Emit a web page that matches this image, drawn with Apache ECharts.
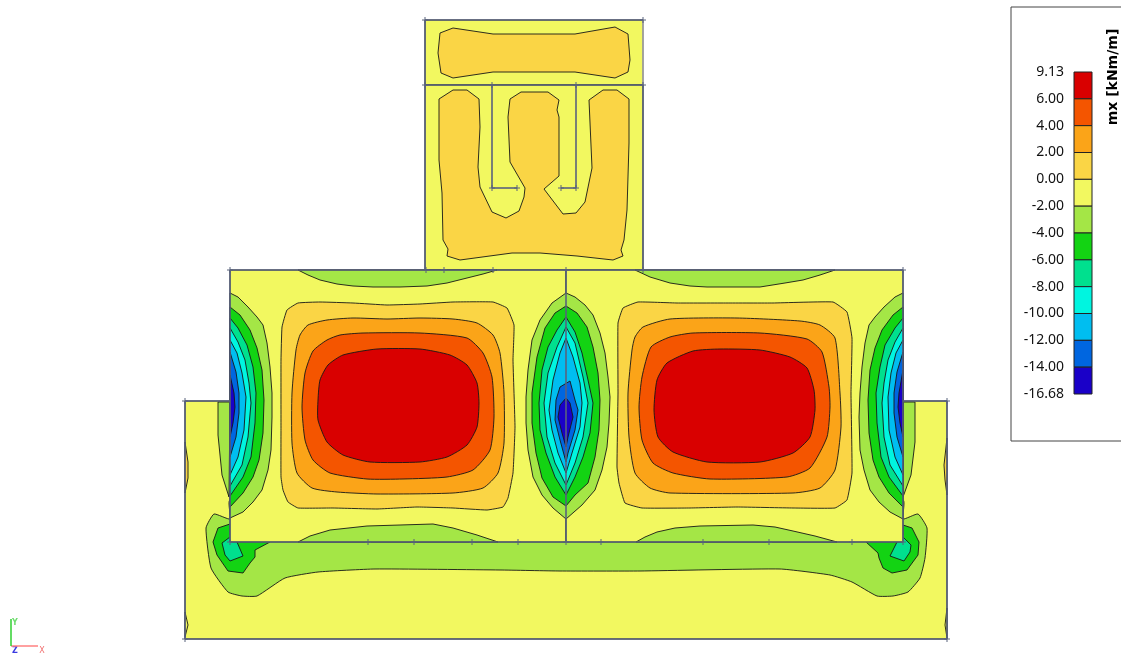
<!DOCTYPE html>
<html>
<head>
<meta charset="utf-8">
<title>mx contour plot</title>
<style>
html,body{margin:0;padding:0;background:#fff;}
#main{width:1121px;height:654px;}
</style>
<script src="https://cdn.jsdelivr.net/npm/echarts@6/dist/echarts.min.js"></script>
</head>
<body>
<div id="main"></div>
<script>
// legend, top band first
var legendLabels=['9.13','6.00','4.00','2.00','0.00','-2.00','-4.00','-6.00','-8.00','-10.00','-12.00','-14.00','-16.68'];
var bandColors=['#d90000','#f45500','#fba418','#fad545','#f2f860','#a4e646','#13d313','#00e08e','#00f5e0','#00bef0','#0066e0','#1a00c8'];
var RED=0,OR6=1,OR4=2,OR2=3,YEL=4,G2=5,G4=6,T6=7,C8=8,B10=9,B12=10,B14=11;

// plates in screen units
var plateBottom=[[185,401],[947,401],[947,639],[185,639]];
var plateTopA=[[425,20],[643,20],[643,85],[425,85]];
var plateTopB=[[425,85],[643,85],[643,270],[425,270]];
var plateLeft=[[230,270],[566,270],[566,542],[230,542]];
var plateRight=[[566,270],[903,270],[903,542],[566,542]];

// bottom plate
var bottomBand=[[230,519],[214,514],[206,528],[211,568],[228,592],[242,596],[257,596],[285,578],[318,572],[375,569],[500,570],[560,571],[640,571],[780,569],[830,575],[852,582],[877,596],[893,596],[908,592],[920,578],[925,558],[927,528],[918,514],[903,519],[903,500],[230,500]];
var wedgeLeft=[[218,402],[218,435],[222,475],[229,497],[230,402]];
var wedgeRight=[[903,402],[915,402],[915,442],[911,475],[903,497]];
var cornerL4=[[230,524],[218,528],[213,542],[217,555],[228,571],[243,573],[250,563],[255,557],[255,550],[270,542],[230,535]];
var cornerL6=[[230,537],[222,543],[225,555],[230,561],[243,556],[237,542]];
var cornerR4=[[903,525],[912,528],[919,542],[918,555],[907,570],[892,573],[883,568],[879,558],[878,553],[866,542],[903,535]];
var cornerR6=[[903,537],[911,545],[910,552],[904,561],[890,556],[897,542]];
var sliverA=[[185,442],[188,462],[188,478],[185,493]];
var sliverB=[[185,612],[188,625],[185,637]];
var sliverC=[[947,438],[944,465],[945,480],[947,495]];
var sliverD=[[947,608],[945,625],[947,638]];

// top plates
var topOrange=[[440,33],[453,28],[493,34],[575,34],[615,27],[628,34],[630,60],[628,72],[615,78],[575,72],[493,72],[453,78],[441,73],[438,53]];
var wallOrange=[[439,99],[453,90],[467,90],[479,99],[480,127],[478,167],[480,187],[492,212],[506,218],[519,211],[524,197],[525,188],[510,162],[508,117],[510,99],[521,92],[548,92],[559,100],[557,110],[559,117],[559,176],[544,189],[563,214],[576,213],[585,202],[592,168],[589,100],[603,90],[617,90],[629,99],[629,143],[627,210],[624,240],[621,250],[623,256],[613,260],[577,256],[540,253],[512,253],[460,260],[447,256],[448,249],[443,240],[442,193],[439,160]];

// left panel
var lBumpTop=[[298,270],[308,275],[320,280],[337,284],[353,286],[373,287],[400,287],[427,286],[447,283],[467,278],[483,274],[497,270]];
var lBumpBot=[[298,542],[310,536],[330,530],[367,526],[433,524],[453,528],[477,535],[498,542]];
var lRing2=[[298,303],[320,302],[353,303],[387,305],[420,304],[453,302],[493,302],[507,308],[514,325],[513,360],[515,427],[513,473],[508,498],[503,507],[487,510],[453,508],[417,507],[377,509],[333,508],[298,508],[288,502],[283,490],[281,477],[281,427],[281,360],[282,327],[287,310]];
var lRing4=[[300,335],[308,325],[327,320],[353,318],[387,319],[420,318],[453,319],[477,323],[493,335],[500,353],[504,393],[504,443],[498,473],[483,488],[453,493],[377,494],[337,492],[312,488],[297,473],[292,443],[292,393],[296,350]];
var lRing6=[[313,351],[327,340],[340,335],[363,333],[420,333],[467,338],[483,353],[492,377],[494,417],[490,450],[473,470],[447,477],[403,479],[367,479],[330,473],[313,460],[305,440],[302,407],[305,373]];
var lCore=[[328,365],[343,355],[377,349],[420,349],[450,355],[467,365],[477,383],[479,403],[477,427],[467,445],[447,457],[420,462],[370,462],[343,455],[327,442],[318,420],[318,400],[320,380]];

// right panel
var rBumpTop=[[635,270],[650,277],[670,283],[690,286],[707,287],[760,287],[785,283],[803,280],[820,275],[835,270]];
var rBumpBot=[[636,542],[645,537],[657,532],[675,528],[700,526],[753,525],[775,527],[793,531],[815,536],[837,542]];
var rRing2=[[623,308],[638,302],[677,303],[727,303],[773,303],[833,302],[847,312],[852,338],[851,393],[852,473],[847,500],[835,508],[793,508],[737,507],[690,508],[642,508],[625,503],[619,483],[617,467],[618,393],[618,323]];
var rRing4=[[635,337],[643,327],[670,319],[737,318],[800,321],[820,325],[835,338],[840,393],[841,427],[835,470],[820,488],[793,493],[670,493],[650,488],[635,473],[629,437],[628,393],[632,350]];
var rRing6=[[651,347],[670,337],[693,333],[760,333],[807,339],[822,352],[829,387],[830,407],[827,437],[810,468],[787,477],[710,479],[673,473],[653,463],[642,440],[639,407],[642,377]];
var rCore=[[667,363],[693,351],[720,349],[760,350],[790,357],[807,368],[814,390],[815,410],[810,437],[793,453],[760,462],[707,462],[673,452],[658,437],[654,410],[657,380]];

// hogging lobes, left edge
var eL2=[[230,293],[238,297],[248,307],[257,317],[263,325],[267,343],[270,367],[272,393],[272,417],[271,450],[268,470],[262,490],[253,502],[243,512],[230,518]];
var eL4=[[230,307],[240,315],[250,330],[257,348],[262,370],[264,400],[263,433],[259,460],[253,477],[243,493],[230,507]];
var eL6=[[230,318],[238,328],[247,345],[253,367],[256,393],[255,423],[251,457],[243,477],[230,496]];
var eL8=[[230,328],[238,342],[245,360],[249,383],[251,403],[248,437],[242,465],[230,486]];
var eL10=[[230,340],[237,353],[242,373],[246,397],[244,430],[238,457],[230,475]];
var eL12=[[230,352],[236,372],[239,393],[239,413],[236,437],[230,457]];
var eL14=[[230,375],[234,393],[235,407],[233,423],[230,437]];

// hogging lobes, centre support
var c2=[[566,293],[575,297],[585,305],[593,315],[600,333],[605,353],[608,377],[610,397],[609,423],[607,447],[602,470],[595,490],[582,505],[566,519],[553,508],[542,495],[533,477],[528,450],[526,423],[526,397],[528,370],[532,340],[540,320],[552,303]];
var c4=[[566,306],[577,313],[587,327],[593,347],[598,373],[600,400],[599,430],[595,457],[588,483],[575,495],[566,506],[553,497],[542,478],[536,453],[532,423],[532,393],[537,357],[545,328],[555,313]];
var c6=[[566,317],[575,332],[582,353],[588,380],[593,403],[590,433],[583,457],[575,477],[566,495],[555,477],[546,453],[540,430],[539,403],[542,370],[548,347],[557,330]];
var c8=[[566,327],[575,343],[583,377],[588,403],[583,437],[575,463],[566,485],[555,463],[547,437],[544,403],[548,373],[557,347]];
var c10=[[566,338],[573,357],[580,383],[582,403],[580,427],[572,453],[566,473],[558,453],[552,430],[549,410],[553,380],[560,353]];
var c12=[[570,381],[575,400],[578,410],[575,430],[568,453],[566,462],[560,440],[555,420],[556,400],[560,387]];
var c14=[[566,398],[570,403],[573,417],[568,437],[566,447],[562,433],[558,417],[560,405]];

// hogging lobes, right edge
var eR2=[[903,293],[895,297],[884,307],[875,317],[869,325],[865,343],[862,367],[860,393],[859,417],[860,450],[864,470],[870,490],[879,502],[890,512],[903,519]];
var eR4=[[903,307],[893,315],[882,330],[875,348],[870,370],[868,400],[869,433],[873,460],[879,477],[889,493],[903,507]];
var eR6=[[903,318],[895,328],[885,345],[880,367],[876,393],[877,423],[881,457],[889,477],[903,496]];
var eR8=[[903,328],[895,342],[888,360],[884,383],[882,403],[884,437],[890,465],[903,486]];
var eR10=[[903,340],[896,353],[891,373],[888,397],[889,430],[895,457],[903,475]];
var eR12=[[903,352],[897,372],[894,393],[894,413],[897,437],[903,457]];
var eR14=[[903,370],[899,393],[898,407],[900,423],[903,437]];

// structure lines
var edgeLines=[
    [[425,20],[643,20]],[[425,85],[643,85]],[[425,20],[425,270]],[[643,85],[643,270]],
    [[492,85],[492,188]],[[492,188],[517,188]],[[576,85],[576,188]],[[576,188],[561,188]],
    [[230,270],[903,270]],[[230,542],[903,542]],[[230,270],[230,542]],[[903,270],[903,542]],[[566,270],[566,542]],
    [[185,401],[230,401]],[[903,401],[947,401]],[[185,401],[185,639]],[[947,401],[947,639]],[[185,639],[947,639]]
];
var paleEdge=[[643,20],[643,85]];
var tickPoints=[[425,20],[643,20],[425,85],[643,85],[492,85],[576,85],[492,188],[517,188],[561,188],[576,188],
    [230,270],[426,270],[444,270],[493,270],[566,270],[643,270],[903,270],
    [230,542],[368,542],[414,542],[472,542],[518,542],[566,542],[601,542],[703,542],[769,542],[852,542],[903,542],
    [185,401],[947,401],[185,639],[947,639]];
var legendFrame=[[1121,7],[1011,7],[1011,441],[1121,441]];
var axisX=[[11,646],[38,646]];
var axisY=[[11,646],[11,619]];

// polygon, colour index, smoothing
var layers=[
    [plateBottom,YEL,0],[bottomBand,G2,0.15],[wedgeLeft,G2,0],[wedgeRight,G2,0],
    [cornerL4,G4,0],[cornerL6,T6,0],[cornerR4,G4,0],[cornerR6,T6,0],
    [sliverA,OR2,0],[sliverB,YEL,0],[sliverC,OR2,0],[sliverD,YEL,0],
    [plateTopA,YEL,0],[plateTopB,YEL,0],[topOrange,OR2,0],[wallOrange,OR2,0],
    [plateLeft,YEL,0],[plateRight,YEL,0],
    [lBumpTop,G2,0],[lBumpBot,G2,0],[lRing2,OR2,0.1],[lRing4,OR4,0.2],[lRing6,OR6,0.2],[lCore,RED,0.2],
    [rBumpTop,G2,0],[rBumpBot,G2,0],[rRing2,OR2,0.1],[rRing4,OR4,0.2],[rRing6,OR6,0.2],[rCore,RED,0.2],
    [eL2,G2,0],[eL4,G4,0],[eL6,T6,0],[eL8,C8,0],[eL10,B10,0],[eL12,B12,0],[eL14,B14,0],
    [c2,G2,0],[c4,G4,0],[c6,T6,0],[c8,C8,0],[c10,B10,0],[c12,B12,0],[c14,B14,0],
    [eR2,G2,0],[eR4,G4,0],[eR6,T6,0],[eR8,C8,0],[eR10,B10,0],[eR12,B12,0],[eR14,B14,0]
];

function mapPoints(api,points) {
    return points.map(function (p) {
        return api.coord(p);
    });
}
function polyItem(params,api) {
    var layer=layers[api.value(0)];
    return {
        type:'polygon',
        shape:{points:mapPoints(api,layer[0]),smooth:layer[2]},
        style:{fill:bandColors[layer[1]],stroke:'#161616',lineWidth:0.9}
    };
}
function edgeItem(params,api) {
    return {
        type:'polyline',
        shape:{points:mapPoints(api,edgeLines[api.value(0)])},
        style:{fill:null,stroke:'#59627d',lineWidth:1.6}
    };
}
function tickItem(params,api) {
    var c=api.coord(tickPoints[api.value(0)]);
    return {
        type:'group',
        children:[
            {type:'line',shape:{x1:c[0]-3,y1:c[1],x2:c[0]+3,y2:c[1]},style:{stroke:'#59627d',lineWidth:1}},
            {type:'line',shape:{x1:c[0],y1:c[1]-3,x2:c[0],y2:c[1]+3},style:{stroke:'#59627d',lineWidth:1}}
        ]
    };
}
function pathItem(points,color,width) {
    return function (params,api) {
        return {
            type:'polyline',
            shape:{points:mapPoints(api,points)},
            style:{fill:null,stroke:color,lineWidth:width}
        };
    };
}
function bandItem(params,api) {
    var i=api.value(0);
    var a=api.coord([0,i]);
    var b=api.coord([1,i+1]);
    return {
        type:'rect',
        shape:{x:a[0],y:a[1],width:b[0]-a[0],height:b[1]-a[1]},
        style:{fill:bandColors[i],stroke:'#222',lineWidth:1}
    };
}
function indexes(list) {
    return list.map(function (d,i) {
        return [i];
    });
}

var myChart=echarts.init(document.getElementById('main'),null,{renderer:'canvas'});
var option={
    animation:false,
    backgroundColor:'#fff',
    textStyle:{fontFamily:'Noto Sans'},
    grid:[
        {left:0,top:0,width:1121,height:654},
        {left:1074,top:72,width:18,height:322}
    ],
    xAxis:[
        {type:'value',gridIndex:0,min:0,max:1121,show:false},
        {type:'value',gridIndex:1,min:0,max:1,show:false}
    ],
    yAxis:[
        {type:'value',gridIndex:0,min:0,max:654,inverse:true,show:false},
        {
            type:'value',gridIndex:1,min:0,max:12,interval:1,inverse:true,
            axisLine:{show:false},axisTick:{show:false},splitLine:{show:false},
            axisLabel:{
                margin:10,color:'#111',fontSize:14,fontFamily:'Noto Sans',
                formatter:function (v) {
                    return legendLabels[v];
                }
            }
        }
    ],
    graphic:[
        {type:'text',x:1113,y:77,rotation:Math.PI/2,style:{text:'mx [kNm/m]',font:'bold 14px "DejaVu Sans"',fill:'#000',align:'center',verticalAlign:'middle'}},
        {type:'text',x:15,y:623,style:{text:'Y',font:'bold 8px "DejaVu Sans"',fill:'#6fdc6f',align:'center',verticalAlign:'middle'}},
        {type:'text',x:42,y:651,style:{text:'X',font:'8px "DejaVu Sans"',fill:'#f07070',align:'center',verticalAlign:'middle'}},
        {type:'text',x:15,y:651,style:{text:'Z',font:'bold 8px "DejaVu Sans"',fill:'#3a3ae0',align:'center',verticalAlign:'middle'}}
    ],
    series:[
        {type:'custom',xAxisIndex:0,yAxisIndex:0,clip:false,silent:true,data:indexes(layers),renderItem:polyItem},
        {type:'custom',xAxisIndex:0,yAxisIndex:0,clip:false,silent:true,data:[[0]],renderItem:pathItem(paleEdge,'#a8a8a8',1.6)},
        {type:'custom',xAxisIndex:0,yAxisIndex:0,clip:false,silent:true,data:indexes(edgeLines),renderItem:edgeItem},
        {type:'custom',xAxisIndex:0,yAxisIndex:0,clip:false,silent:true,data:indexes(tickPoints),renderItem:tickItem},
        {type:'custom',xAxisIndex:0,yAxisIndex:0,clip:false,silent:true,data:[[0]],renderItem:pathItem(legendFrame,'#444',1)},
        {type:'custom',xAxisIndex:0,yAxisIndex:0,clip:false,silent:true,data:[[0]],renderItem:pathItem(axisX,'#ff8080',1.5)},
        {type:'custom',xAxisIndex:0,yAxisIndex:0,clip:false,silent:true,data:[[0]],renderItem:pathItem(axisY,'#30d030',1.5)},
        {type:'custom',xAxisIndex:1,yAxisIndex:1,silent:true,clip:false,data:indexes(bandColors),renderItem:bandItem}
    ]
};
myChart.setOption(option);
</script>
</body>
</html>
